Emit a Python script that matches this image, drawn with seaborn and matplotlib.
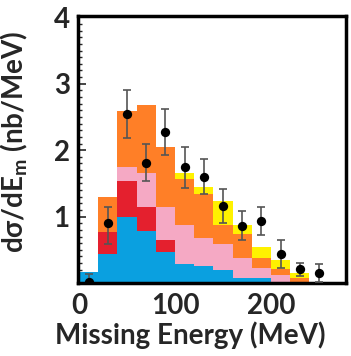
import numpy as np
import pandas as pd
import matplotlib
matplotlib.use("Agg")
import matplotlib.pyplot as plt
import seaborn as sns

# ---- data ----
bin_edges = [0, 20, 40, 60, 80, 100, 120, 140, 160, 180, 200, 220, 240, 260]
centers = [10, 30, 50, 70, 90, 110, 130, 150, 170, 190, 210, 230, 250]
blue   = [0.16, 0.43, 0.99, 0.79, 0.46, 0.29, 0.26, 0.19, 0.08, 0.08, 0.00, 0.00, 0.00]
red    = [0.00, 0.34, 0.55, 0.36, 0.19, 0.00, 0.00, 0.00, 0.00, 0.00, 0.00, 0.00, 0.00]
pink   = [0.00, 0.00, 0.20, 0.51, 0.50, 0.59, 0.42, 0.39, 0.29, 0.14, 0.12, 0.00, 0.00]
orange = [0.00, 0.52, 0.85, 1.02, 0.90, 0.69, 0.66, 0.30, 0.37, 0.15, 0.09, 0.07, 0.02]
yellow = [0.00, 0.00, 0.00, 0.00, 0.00, 0.09, 0.10, 0.36, 0.14, 0.17, 0.14, 0.08, 0.00]
data_y  = [0.02, 0.90, 2.54, 1.81, 2.28, 1.75, 1.59, 1.16, 0.86, 0.94, 0.44, 0.21, 0.15]
data_hi = [0.14, 1.14, 2.90, 2.09, 2.62, 2.05, 1.86, 1.41, 1.08, 1.15, 0.64, 0.30, 0.29]
data_lo = [0.00, 0.58, 2.18, 1.53, 1.92, 1.43, 1.34, 0.90, 0.64, 0.72, 0.22, 0.10, 0.01]
x_ticks = [0, 100, 200]
y_ticks = [1, 2, 3, 4]

components = {"blue": blue, "red": red, "pink": pink, "orange": orange, "yellow": yellow}
colors = {"blue": "#0aa0e0", "red": "#e4202e", "pink": "#f5a9c4",
          "orange": "#ff7f27", "yellow": "#fff200"}

rows = []
for name, vals in components.items():
    for c, v in zip(centers, vals):
        rows.append({"E": c, "w": v, "comp": name})
df = pd.DataFrame(rows)

sns.set_style("white")
plt.rcParams["font.family"] = ["Lato", "DejaVu Sans"]
plt.rcParams["mathtext.fontset"] = "custom"
plt.rcParams["mathtext.rm"] = "Lato:bold"
plt.rcParams["mathtext.default"] = "rm"

fig = plt.figure(figsize=(3.51, 3.56), dpi=100)
ax = fig.add_axes([78 / 351, 1 - 283 / 356, 268 / 351, 267 / 356])

sns.histplot(data=df, x="E", weights="w", hue="comp",
             hue_order=["yellow", "orange", "pink", "red", "blue"],
             palette=colors, multiple="stack", bins=bin_edges,
             element="bars", alpha=1, linewidth=0, edgecolor="none",
             legend=False, ax=ax)

yerr = [np.array(data_y) - np.array(data_lo), np.array(data_hi) - np.array(data_y)]
ax.errorbar(centers, data_y, yerr=yerr, fmt="none", ecolor="#555555",
            elinewidth=1.2, capsize=2.8, capthick=1.2, zorder=4)
sns.scatterplot(x=centers, y=data_y, color="black", s=45, edgecolor="black",
                linewidth=0, zorder=5, ax=ax)

ax.set_xlim(-1, 278)
ax.set_ylim(0, 4.02)
ax.set_xticks(x_ticks)
ax.set_yticks(y_ticks)
ax.set_xticklabels([str(t) for t in x_ticks], fontsize=20, fontweight="bold")
ax.set_yticklabels([str(t) for t in y_ticks], fontsize=20, fontweight="bold")
ax.set_yticks(np.arange(0.1, 4.0, 0.1), minor=True)
ax.tick_params(axis="y", which="major", direction="in", length=6, width=1.2, pad=6,
               left=True)
ax.tick_params(axis="y", which="minor", direction="in", length=3, width=1.0, left=True)
ax.tick_params(axis="x", which="both", length=0, pad=7)

for s in ax.spines.values():
    s.set_linewidth(2.5)
    s.set_color("black")

ax.set_xlabel("Missing Energy (MeV)", fontsize=20, fontweight="bold")
ax.set_ylabel("dσ/dE$_{\\mathrm{m}}$ (nb/MeV)", fontsize=20, fontweight="bold")
ax.xaxis.set_label_coords(0.42, -0.145)
ax.yaxis.set_label_coords(-0.18, 0.53)

fig.savefig("out.png", dpi=100)
